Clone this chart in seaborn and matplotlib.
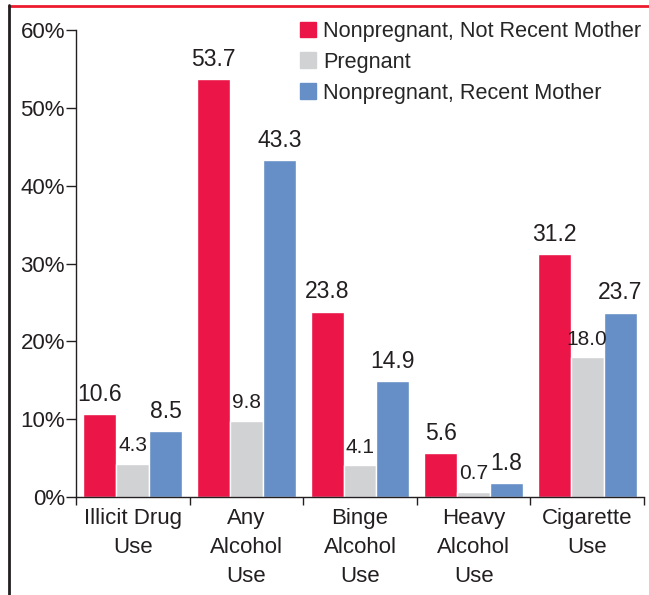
import pandas as pd
import matplotlib
matplotlib.use("Agg")
from matplotlib import pyplot as plt
from matplotlib.lines import Line2D
import seaborn as sns

# values (percent)
categories = ["Illicit Drug\nUse", "Any\nAlcohol\nUse", "Binge\nAlcohol\nUse", "Heavy\nAlcohol\nUse", "Cigarette\nUse"]
groups = ["Nonpregnant, Not Recent Mother", "Pregnant", "Nonpregnant, Recent Mother"]
not_recent = [10.6, 53.7, 23.8, 5.6, 31.2]
pregnant = [4.3, 9.8, 4.1, 0.7, 18.0]
recent = [8.5, 43.3, 14.9, 1.8, 23.7]
colors = ["#EC1548", "#D1D2D4", "#668FC7"]

rows = []
for series, name in zip([not_recent, pregnant, recent], groups):
    for cat, val in zip(categories, series):
        rows.append({"cat": cat, "group": name, "pct": val})
df = pd.DataFrame(rows)

sns.set_style("white")
plt.rcParams["font.family"] = ["Liberation Sans", "DejaVu Sans"]

fig = plt.figure(figsize=(6.49, 5.95), dpi=100)
ax = fig.add_axes([76 / 649, 98 / 595, 568 / 649, 467 / 595])

sns.barplot(data=df, x="cat", y="pct", hue="group", palette=colors,
            width=0.87, saturation=1, ax=ax, legend=False)

# value labels, the pregnant ones are set a little smaller
for i, cont in enumerate(ax.containers):
    fs = 15 if i == 1 else 16.5
    ax.bar_label(cont, fmt="%.1f", padding=6, fontsize=fs, color="#231F20")

ax.set_ylim(0, 60)
ax.set_xlim(-0.5, 4.5)
ax.set_yticks(range(0, 61, 10))
ax.set_yticklabels([f"{v}%" for v in range(0, 61, 10)], fontsize=16, color="#231F20")
ax.set_xticks(range(len(categories)))
ax.set_xticklabels(categories, fontsize=16, color="#231F20", linespacing=1.5)
ax.tick_params(axis="x", length=0, pad=8)
ax.tick_params(axis="y", length=7, width=1, direction="out", color="#231F20", left=True, pad=1)
ax.set_xticks([x - 0.5 for x in range(len(categories) + 1)], minor=True)
ax.tick_params(axis="x", which="minor", length=6, width=1, direction="out", bottom=True, color="#231F20")
ax.set_xlabel("")
ax.set_ylabel("")
sns.despine(ax=ax, top=True, right=True)
for s in ["left", "bottom"]:
    ax.spines[s].set_color("#231F20")
    ax.spines[s].set_linewidth(1)

# legend
handles = [plt.Rectangle((0, 0), 1, 1, color=c) for c in colors]
fig.legend(handles, groups, loc="upper left", bbox_to_anchor=(300 / 649, 1 - 21 / 595),
           frameon=False, fontsize=15.6, handlelength=0.72, handleheight=0.72,
           handletextpad=0.35, labelspacing=0.45, borderaxespad=0, borderpad=0)

# frame lines at top and left
fig.add_artist(Line2D([9 / 649, 1], [1 - 5.5 / 595, 1 - 5.5 / 595], color="#EC1C2E", lw=2,
                      transform=fig.transFigure))
fig.add_artist(Line2D([8.5 / 649, 8.5 / 649], [0, 1 - 5 / 595], color="#231F20", lw=2,
                      transform=fig.transFigure))

fig.savefig("out.png", dpi=100)
